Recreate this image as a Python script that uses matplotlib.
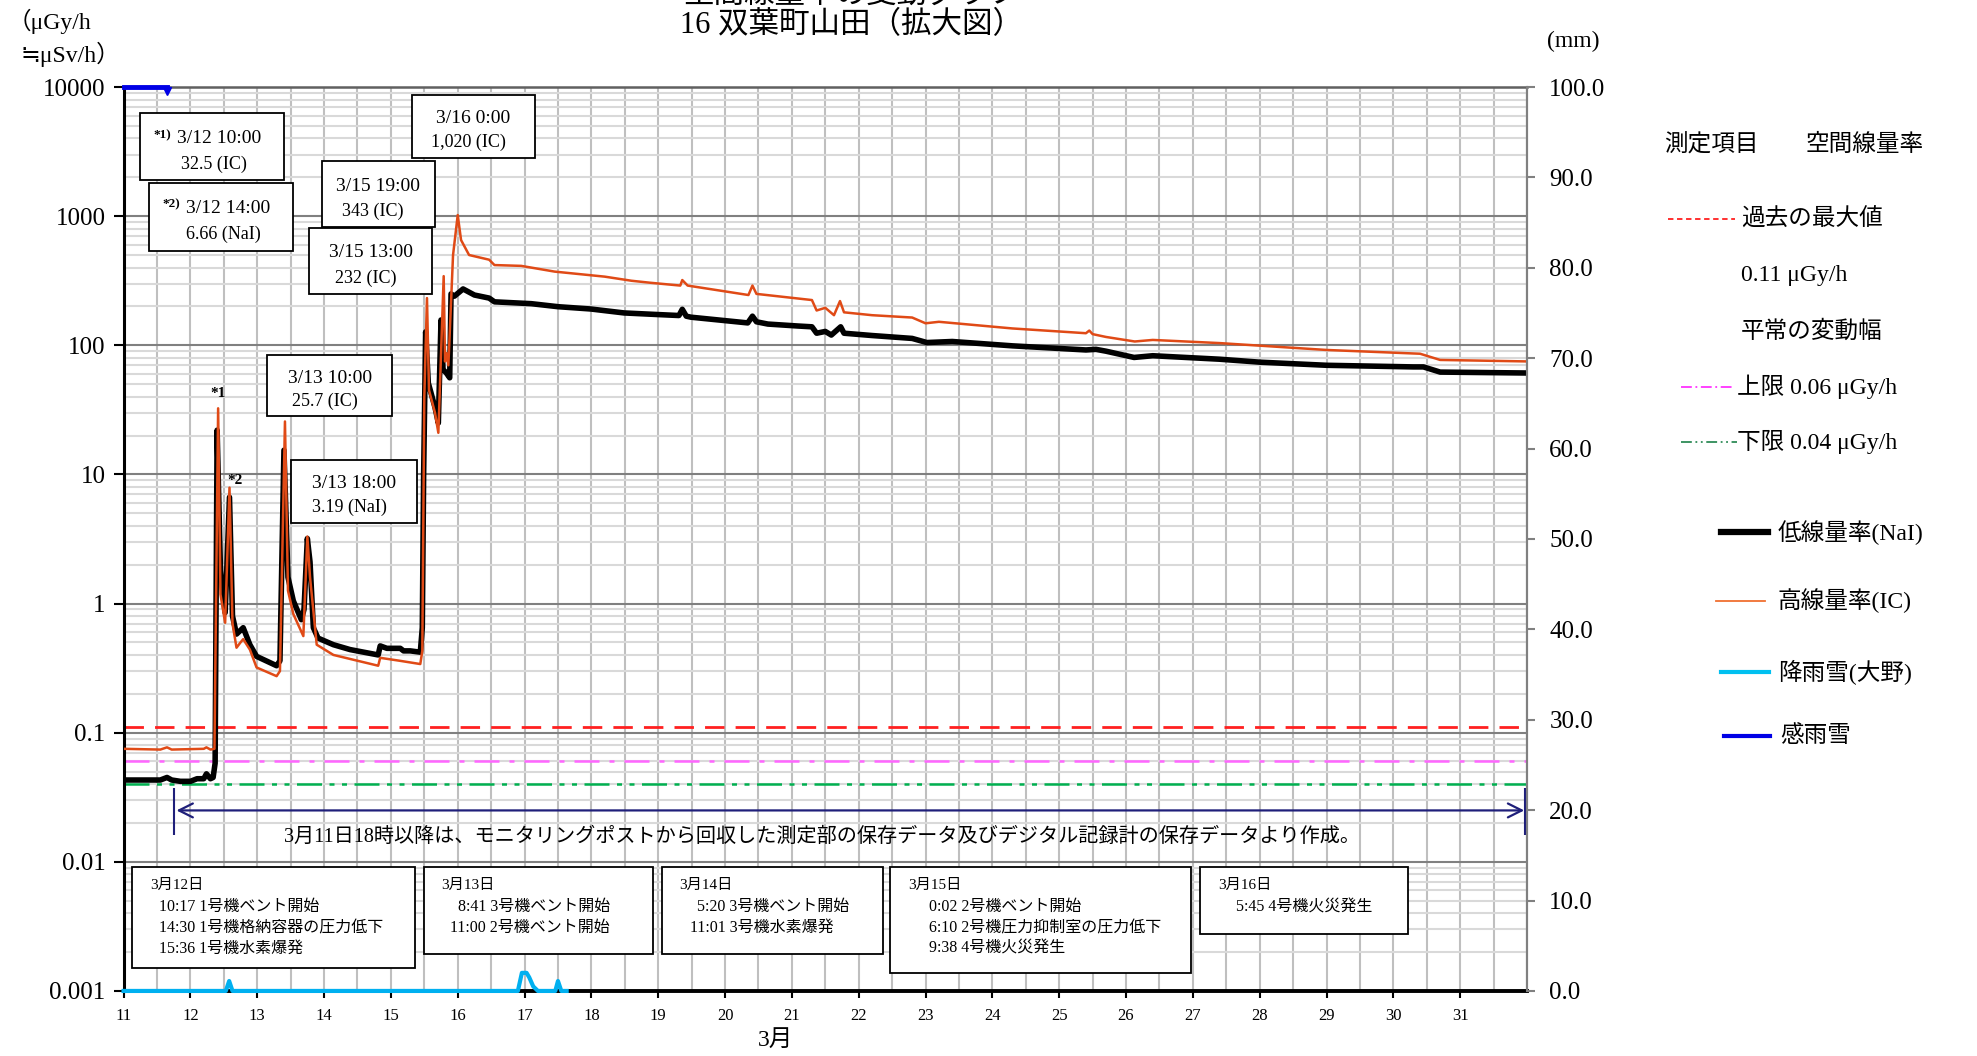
import matplotlib
matplotlib.use('Agg')
import matplotlib.pyplot as plt
from matplotlib.patches import Rectangle
from matplotlib.lines import Line2D
from matplotlib.ticker import LogLocator, MultipleLocator, FixedLocator, NullFormatter
import numpy as np

plt.rcParams['font.family'] = ['Liberation Serif', 'Noto Sans CJK JP', 'DejaVu Sans']

# ---- data (day of March, value) ----
nai_day = [11.0, 11.55, 11.65, 11.72, 11.85, 12.0, 12.1, 12.2, 12.24, 12.3, 12.34, 12.37,
           12.40, 12.45, 12.52, 12.585, 12.63, 12.69, 12.75, 12.79, 12.89, 12.99, 13.29, 13.34,
           13.40, 13.46, 13.54, 13.66, 13.70, 13.75, 13.79, 13.84, 13.91, 14.14, 14.39, 14.81,
           14.84, 14.94, 15.14, 15.19, 15.29, 15.44, 15.47, 15.49, 15.52, 15.56, 15.66, 15.71,
           15.75, 15.78, 15.83, 15.88, 15.90, 15.95, 16.08, 16.25, 16.47, 16.55, 17.1, 17.5,
           17.99, 18.49, 18.99, 19.31, 19.36, 19.42, 19.49, 20.34, 20.41, 20.47, 20.64, 21.09,
           21.3, 21.37, 21.5, 21.59, 21.73, 21.78, 22.2, 22.8, 23.02, 23.4, 24.3, 25.4, 25.55,
           25.7, 26.12, 26.4, 27.4, 28.0, 29.0, 30.3, 30.45, 30.7, 31.99]
nai_val = [0.043, 0.043, 0.045, 0.043, 0.042, 0.042, 0.044, 0.044, 0.048, 0.044, 0.045, 0.058,
           22, 1.8, 0.85, 6.66, 0.8, 0.58, 0.62, 0.65, 0.48, 0.39, 0.33, 0.36,
           15.4, 1.6, 1.05, 0.75, 0.9, 3.19, 2.1, 0.65, 0.54, 0.48, 0.44, 0.40,
           0.47, 0.45, 0.45, 0.43, 0.43, 0.42, 0.65, 10, 127, 51, 33, 25,
           157, 65, 61, 56, 250, 240, 273, 245, 232, 217, 210, 199,
           191, 178, 173, 170, 190, 168, 165, 149, 168, 152, 146, 141,
           139, 124, 128, 120, 139, 124, 119, 113, 105, 107, 99, 92, 93,
           90, 80.5, 83, 78, 74, 70, 68, 68, 62, 61]

ic_day = [11.0, 11.55, 11.65, 11.72, 12.2, 12.24, 12.3, 12.36, 12.415, 12.45, 12.52, 12.585,
          12.63, 12.69, 12.75, 12.79, 12.89, 12.99, 13.29, 13.34, 13.415, 13.46, 13.54, 13.69,
          13.75, 13.79, 13.89, 14.14, 14.81, 14.84, 15.14, 15.44, 15.47, 15.50, 15.54, 15.57,
          15.66, 15.71, 15.79, 15.81, 15.83, 15.86, 15.93, 16.0, 16.05, 16.17, 16.47, 16.55,
          16.95, 17.45, 18.2, 18.6, 18.88, 19.33, 19.36, 19.44, 20.35, 20.41, 20.47, 21.3,
          21.37, 21.5, 21.63, 21.72, 21.78, 22.2, 22.8, 23.0, 23.2, 24.3, 25.4, 25.45, 25.5,
          25.7, 26.13, 26.4, 27.4, 29.0, 30.4, 30.7, 31.99]
ic_val = [0.075, 0.074, 0.077, 0.074, 0.075, 0.077, 0.074, 0.075, 32.5, 1.18, 0.71, 7.9,
          0.70, 0.455, 0.50, 0.53, 0.44, 0.32, 0.274, 0.30, 25.7, 1.26, 0.83, 0.56,
          3.3, 1.6, 0.48, 0.40, 0.33, 0.38, 0.36, 0.34, 0.43, 40, 232, 45,
          30, 21, 343, 75, 87, 70, 500, 1020, 653, 500, 460, 418,
          412, 372, 340, 316, 305, 290, 320, 290, 245, 290, 250, 224,
          186, 195, 171, 220, 180, 171, 164, 148, 152, 135, 124, 130, 122,
          116, 107, 110, 104, 92, 86, 77, 75]

rain_day = [11.0, 12.53, 12.58, 12.63, 16.9, 16.96, 17.03, 17.07, 17.13, 17.2, 17.46, 17.5, 17.55, 17.63]
rain_mm = [0, 0, 1.1, 0, 0, 2.0, 2.0, 1.5, 0.5, 0, 0, 1.1, 0, 0]

sense_day = [11.0, 11.65]
sense_mm = [100, 100]

past_max = 0.11
normal_upper = 0.06
normal_lower = 0.04

x_ticks = list(range(11, 32))
y_ticks = [0.001, 0.01, 0.1, 1, 10, 100, 1000, 10000]
y_labels = ['0.001', '0.01', '0.1', '1', '10', '100', '1000', '10000']
r_ticks = list(range(0, 101, 10))

# ---- layout helpers (reference pixel grid 1568x838) ----
W, H = 1568.0, 838.0


def fxy(x, y):
    return x / W, 1 - y / H


fig = plt.figure(figsize=(19.77, 10.56), dpi=100)
ax = fig.add_axes([0.0625, 0.0616, 0.7099, 0.856])

ax.set_yscale('log')
ax.set_xlim(11, 32)
ax.set_ylim(0.001, 10000)

ax.xaxis.set_major_locator(FixedLocator(x_ticks))
ax.set_xticklabels([str(d) for d in x_ticks], fontsize=12)
ax.xaxis.set_minor_locator(MultipleLocator(0.5))
ax.yaxis.set_major_locator(FixedLocator(y_ticks))
ax.set_yticklabels(y_labels, fontsize=18)
ax.yaxis.set_minor_locator(LogLocator(base=10, subs=np.arange(2, 10)))
ax.yaxis.set_minor_formatter(NullFormatter())

ax.grid(True, which='major', axis='x', color='#BFBFBF', lw=1.5)
ax.grid(True, which='minor', axis='x', color='#BFBFBF', lw=1.5)
ax.grid(True, which='major', axis='y', color='#808080', lw=1.5)
ax.grid(True, which='minor', axis='y', color='#D9D9D9', lw=1.5)
ax.set_axisbelow(True)
ax.tick_params(which='minor', length=0)
ax.tick_params(axis='y', which='major', length=7, width=1.5, color='black', pad=6)
ax.tick_params(axis='x', which='major', length=5, width=1.5, pad=7)

ax.spines['left'].set_linewidth(2.2)
ax.spines['bottom'].set_linewidth(2.8)
ax.spines['top'].set_color('#606060')
ax.spines['top'].set_linewidth(1.8)
ax.spines['right'].set_color('#808080')
ax.spines['right'].set_linewidth(1.5)

# reference levels
ax.axhline(past_max, color='#FF2020', lw=2, dashes=(7, 4), zorder=2)
ax.axhline(normal_upper, color='#FF66FF', lw=1.8, dashes=(10, 4, 2, 4), zorder=2)
ax.axhline(normal_lower, color='#00B050', lw=1.8, dashes=(10, 3, 2, 3, 2, 3), zorder=2)

# dose rates
ax.plot(nai_day, nai_val, color='black', lw=4, zorder=4, solid_joinstyle='round')
ax.plot(ic_day, ic_val, color='#E04A16', lw=1.8, zorder=5)

# rain axis
ax2 = ax.twinx()
ax2.set_ylim(0, 100)
ax2.yaxis.set_major_locator(FixedLocator(r_ticks))
ax2.set_yticklabels(['%.1f' % v for v in r_ticks], fontsize=18)
ax2.tick_params(axis='y', length=6, width=1.5, color='#808080', pad=10)
for s in ['left', 'top', 'bottom']:
    ax2.spines[s].set_visible(False)
ax2.spines['right'].set_color('#808080')
ax2.spines['right'].set_linewidth(1.5)
ax2.plot(rain_day, rain_mm, color='#00B0F0', lw=3, clip_on=False, zorder=3)
ax2.plot(sense_day, sense_mm, color='#0000E6', lw=3.5, clip_on=False, zorder=3)
ax2.plot([sense_day[-1]], [sense_mm[-1] - 0.4], marker='v', color='#0000E6', ms=6, clip_on=False)

# data-source arrow
ax.annotate('', xy=(32, 0.025), xytext=(11.75, 0.025),
            arrowprops=dict(arrowstyle='<->', color='#1F1F7A', lw=1.6, mutation_scale=25), zorder=6)
ax.vlines([11.75, 31.97], 0.016, 0.037, color='#1F1F7A', lw=1.5, clip_on=False, zorder=6)
ax.text(21.45, 0.0155, '3月11日18時以降は、モニタリングポストから回収した測定部の保存データ及びデジタル記録計の保存データより作成。',
        ha='center', va='center', fontsize=14.5, zorder=6)

ax.text(12.42, 38, '*1', ha='center', va='bottom', fontsize=11, fontweight='bold', zorder=6)
ax.text(12.66, 8.0, '*2', ha='center', va='bottom', fontsize=11, fontweight='bold', zorder=6)


def box(x0, y0, x1, y1):
    x, y = fxy(x0, y1)
    fig.add_artist(Rectangle((x, y), (x1 - x0) / W, (y1 - y0) / H, transform=fig.transFigure,
                             facecolor='white', edgecolor='black', lw=1.3, zorder=5))


def ftext(x, y, s, **kw):
    fx, fy = fxy(x, y)
    kw.setdefault('va', 'center')
    fig.text(fx, fy, s, zorder=6, **kw)


# peak value boxes
peak_boxes = [
    ((111, 90, 225, 143), '3/12 10:00', '32.5 (IC)', '*1)'),
    ((118, 145, 232, 199), '3/12 14:00', '6.66 (NaI)', '*2)'),
    ((327, 75, 424, 125), '3/16 0:00', '1,020 (IC)', None),
    ((255, 128, 345, 180), '3/15 19:00', '343 (IC)', None),
    ((245, 181, 343, 233), '3/15 13:00', '232 (IC)', None),
    ((212, 282, 311, 330), '3/13 10:00', '25.7 (IC)', None),
    ((231, 365, 331, 415), '3/13 18:00', '3.19 (NaI)', None),
]
for (x0, y0, x1, y1), t1, t2, star in peak_boxes:
    box(x0, y0, x1, y1)
    cx = (x0 + x1) / 2 + (6 if star else 0)
    ftext(cx, y0 + (y1 - y0) * 0.38, t1, ha='center', fontsize=14)
    ftext(cx - 4, y0 + (y1 - y0) * 0.76, t2, ha='center', fontsize=13)
    if star:
        ftext(x0 + 18, y0 + (y1 - y0) * 0.32, star, ha='center', fontsize=9.5, fontweight='bold')

# event boxes
event_boxes = [
    ((105, 688, 329, 768), '3月12日', ['10:17 1号機ベント開始', '14:30 1号機格納容器の圧力低下', '15:36 1号機水素爆発'], [126, 126, 126]),
    ((336, 688, 518, 757), '3月13日', ['8:41 3号機ベント開始', '11:00 2号機ベント開始'], [363, 357]),
    ((525, 688, 700, 757), '3月14日', ['5:20 3号機ベント開始', '11:01 3号機水素爆発'], [553, 547]),
    ((706, 688, 945, 772), '3月15日', ['0:02 2号機ベント開始', '6:10 2号機圧力抑制室の圧力低下', '9:38 4号機火災発生'], [737, 737, 737]),
    ((952, 688, 1117, 741), '3月16日', ['5:45 4号機火災発生'], [980]),
]
for (x0, y0, x1, y1), head, lines, xs in event_boxes:
    box(x0, y0, x1, y1)
    ftext(x0 + 14, y0 + 15, head, ha='left', fontsize=11)
    for i, (s, lx) in enumerate(zip(lines, xs)):
        ftext(lx, y0 + 32 + i * 16.5, s, ha='left', fontsize=11.5)

# titles and axis units
ftext(675, -4, '空間線量率の変動グラフ', ha='center', fontsize=22)
ftext(675, 20, '16 双葉町山田（拡大図）', ha='center', fontsize=22)
ftext(6, 17, '（μGy/h', ha='left', fontsize=17)
ftext(16, 43, '≒μSv/h）', ha='left', fontsize=17)
ftext(1248, 33, '(mm)', ha='center', fontsize=17)
ftext(615, 826, '3月', ha='center', fontsize=17)

# legend
ftext(1320, 115, '測定項目', ha='left', fontsize=17)
ftext(1432, 115, '空間線量率', ha='left', fontsize=17)


def leg_line(x0, x1, y, **kw):
    (a, b), (c, _) = fxy(x0, y), fxy(x1, y)
    fig.add_artist(Line2D([a, c], [b, b], transform=fig.transFigure, **kw))


leg_line(1323, 1376, 174, color='#FF2020', lw=1.3, dashes=(3, 2))
ftext(1381, 174, '過去の最大値', ha='left', fontsize=17)
ftext(1381, 219, '0.11 μGy/h', ha='left', fontsize=17)
ftext(1381, 263, '平常の変動幅', ha='left', fontsize=17)
leg_line(1333, 1376, 307, color='#FF33FF', lw=1.3, dashes=(6, 2, 1, 2))
ftext(1378, 307, '上限 0.06 μGy/h', ha='left', fontsize=17)
leg_line(1333, 1378, 351, color='#2E8B57', lw=1.3, dashes=(6, 2, 1, 2, 1, 2))
ftext(1378, 351, '下限 0.04 μGy/h', ha='left', fontsize=17)
leg_line(1365, 1402, 422, color='black', lw=4.5)
ftext(1410, 423, '低線量率(NaI)', ha='left', fontsize=17)
leg_line(1361, 1400, 477, color='#F07030', lw=1.3)
ftext(1410, 477, '高線量率(IC)', ha='left', fontsize=17)
leg_line(1365, 1403, 533, color='#00C0F0', lw=3)
ftext(1410, 534, '降雨雪(大野)', ha='left', fontsize=17)
leg_line(1367, 1404, 584, color='#0000E6', lw=3)
ftext(1412, 584, '感雨雪', ha='left', fontsize=17)

fig.savefig('out.png', dpi=100)
